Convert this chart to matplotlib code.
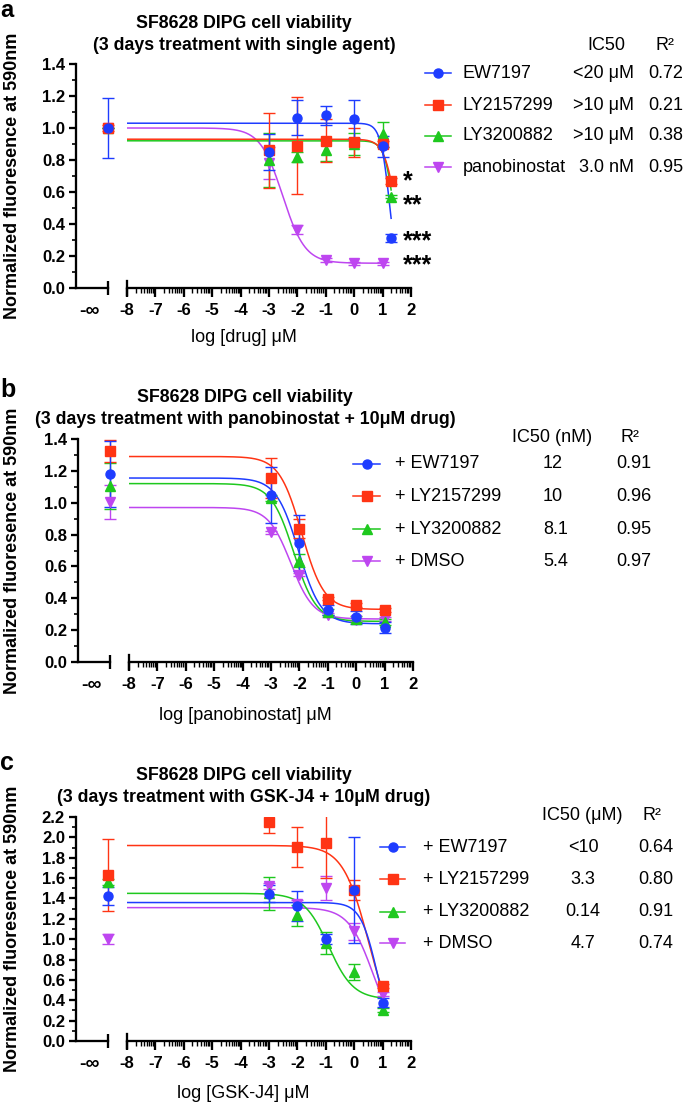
import numpy as np
import matplotlib.pyplot as plt
from matplotlib.lines import Line2D

plt.rcParams['font.family'] = ['Liberation Sans', 'DejaVu Sans']

W, H = 685, 1103

colors = ['#1E3CFF', '#FF3414', '#1EC81E', '#BE46F0']
markers = ['o', 's', '^', 'v']

# ---- panel a: single agent
a_names = ['EW7197', 'LY2157299', 'LY3200882', 'panobinostat']
a_ic50 = ['<20 μM', '>10 μM', '>10 μM', '3.0 nM']
a_r2 = ['0.72', '0.21', '0.38', '0.95']
a_x = [[-3, -2, -1, 0, 1, 1.3], [-3, -2, -1, 0, 1, 1.3],
       [-3, -2, -1, 0, 1, 1.3], [-3, -2, -1, 0, 1]]
a_y = [[0.85, 1.065, 1.08, 1.055, 0.885, 0.31],
       [0.86, 0.89, 0.92, 0.91, 0.90, 0.67],
       [0.80, 0.82, 0.86, 0.90, 0.96, 0.57],
       [0.78, 0.365, 0.175, 0.155, 0.155]]
a_err = [[0.11, 0.11, 0.06, 0.12, 0.065, 0.025],
         [0.235, 0.305, 0.135, 0.09, 0.02, 0.02],
         [0.17, 0.03, 0.065, 0.07, 0.08, 0.01],
         [0.10, 0.03, 0.01, 0.01, 0.01]]
a_inf = [1.0, 1.0, 1.0, 1.0]
a_inf_err = [0.19, 0.02, 0.0, 0.0]
# top, bottom, logIC50, hill, last x
a_fit = [(1.03, 0.0, 1.25, 2.7, 1.3), (0.93, 0.0, 1.5, 2.0, 1.3),
         (0.92, 0.0, 1.42, 2.5, 1.3), (1.00, 0.155, -2.52, 1.1, 1.0)]
a_stars = ['*', '**', '***', '***']
a_star_y = [0.68, 0.535, 0.31, 0.16]

# ---- panel b: panobinostat + 10uM drug
b_names = ['+ EW7197', '+ LY2157299', '+ LY3200882', '+ DMSO']
b_ic50 = ['12', '10', '8.1', '5.4']
b_r2 = ['0.91', '0.96', '0.95', '0.97']
b_x = [[-3, -2, -1, 0, 1]] * 4
b_y = [[1.05, 0.745, 0.325, 0.28, 0.215],
       [1.155, 0.838, 0.398, 0.358, 0.327],
       [1.03, 0.635, 0.315, 0.27, 0.25],
       [0.815, 0.547, 0.295, 0.265, 0.27]]
b_err = [[0.175, 0.175, 0.03, 0.04, 0.035],
         [0.125, 0.06, 0.01, 0.01, 0.01],
         [0.02, 0.04, 0.02, 0.02, 0.02],
         [0.01, 0.01, 0.01, 0.01, 0.01]]
b_inf = [1.18, 1.325, 1.107, 1.005]
b_inf_err = [0.21, 0.07, 0.145, 0.105]
b_fit = [(1.155, 0.24, -2.03, 1.1, 1), (1.29, 0.33, -1.92, 1.1, 1),
         (1.12, 0.255, -2.2, 1.1, 1), (0.97, 0.27, -2.3, 1.1, 1)]

# ---- panel c: GSK-J4 + 10uM drug
c_names = ['+ EW7197', '+ LY2157299', '+ LY3200882', '+ DMSO']
c_ic50 = ['<10', '3.3', '0.14', '4.7']
c_r2 = ['0.64', '0.80', '0.91', '0.74']
c_x = [[-3, -2, -1, 0, 1]] * 4
c_y = [[1.447, 1.326, 1.00, 1.486, 0.376],
       [2.15, 1.905, 1.948, 1.48, 0.54],
       [1.45, 1.234, 0.96, 0.678, 0.30],
       [1.52, 1.35, 1.50, 1.077, 0.46]]
c_err = [[0.085, 0.15, 0.05, 0.52, 0.045],
         [0.11, 0.195, 0.35, 0.10, 0.02],
         [0.16, 0.105, 0.11, 0.075, 0.02],
         [0.03, 0.03, 0.12, 0.085, 0.02]]
c_inf = [1.424, 1.633, 1.56, 1.005]
c_inf_err = [0.09, 0.355, 0.03, 0.05]
c_fit = [(1.36, 0.0, 0.8, 1.5, 1), (1.92, 0.0, 0.52, 0.95, 1),
         (1.45, 0.41, -0.9, 1.0, 1), (1.31, 0.0, 0.67, 1.0, 1)]


def fx(p):
    return p / W


def fy(p):
    return 1 - p / H


fig = plt.figure(figsize=(W / 100, H / 100), dpi=100)

LW = 1.65


def draw_panel(xl, ytop, ybot, ymax, xs, ys, errs, inf, inf_err, fits):
    h = (ybot - ytop) / H
    ax0 = fig.add_axes([fx(xl), fy(ybot), 32 / W, h])
    ax1 = fig.add_axes([fx(xl + 51), fy(ybot), 284 / W, h])
    for ax in (ax0, ax1):
        ax.set_ylim(0, ymax)
        ax.patch.set_alpha(0)
        for s in ax.spines.values():
            s.set_linewidth(LW)
        ax.spines['top'].set_visible(False)
        ax.spines['right'].set_visible(False)
    ax0.set_xlim(0, 1)
    ax0.set_yticks(np.arange(0, ymax + 0.01, 0.2))
    ax0.set_yticklabels(['%.1f' % v for v in np.arange(0, ymax + 0.01, 0.2)],
                        fontsize=12, fontweight='bold')
    ax0.set_yticks(np.arange(0, ymax + 0.01, 0.1), minor=True)
    ax0.tick_params(axis='y', which='major', length=5, width=LW, pad=3)
    ax0.tick_params(axis='y', which='minor', length=3, width=1.2)
    ax0.set_xticks([0.42])
    ax0.set_xticklabels(['-∞'], fontsize=14, fontweight='bold')
    ax0.set_xticks([1], minor=True)
    ax0.tick_params(axis='x', which='major', length=0, pad=11)
    ax0.tick_params(axis='x', which='minor', direction='inout', length=9.4, width=LW)

    ax1.spines['left'].set_visible(False)
    ax1.set_xlim(-8, 2)
    ax1.set_yticks([])
    ax1.set_xticks(range(-8, 3))
    ax1.set_xticklabels([str(v) for v in range(-8, 3)], fontsize=12, fontweight='bold')
    minor = [n + np.log10(k) for n in range(-8, 2) for k in range(2, 10)]
    ax1.set_xticks(minor, minor=True)
    ax1.tick_params(axis='x', which='major', length=6.5, width=LW, pad=4)
    ax1.tick_params(axis='x', which='minor', length=3.6, width=1.0)
    ax1.axvline(-8, ymin=-0.03, ymax=0.03, color='k', lw=LW, clip_on=False)

    for i in [3, 2, 1, 0]:
        top, bot, logic, hill, xend = fits[i]
        xx = np.linspace(-8, xend, 400)
        ax1.plot(xx, bot + (top - bot) / (1 + 10 ** ((xx - logic) * hill)),
                 color=colors[i], lw=1.1, zorder=2)
        ax1.errorbar(xs[i], ys[i], yerr=errs[i], fmt=markers[i], color=colors[i],
                     ms=6.5, capsize=4.3, elinewidth=1.0, capthick=1.0, zorder=3)
        eb = ax0.errorbar([1], [inf[i]], yerr=[inf_err[i]], fmt=markers[i],
                          color=colors[i], ms=6.5, capsize=4.3, elinewidth=1.0,
                          capthick=1.0, zorder=3)
        for art in eb.get_children():
            art.set_clip_on(False)
    return ax0, ax1


def legend_rows(rows_y, lx0, lx1, names, name_x):
    for i, y in enumerate(rows_y):
        fig.add_artist(Line2D([fx(lx0), fx(lx1)], [fy(y), fy(y)], color=colors[i],
                              lw=1.1, transform=fig.transFigure))
        fig.add_artist(Line2D([fx((lx0 + lx1) / 2)], [fy(y)], marker=markers[i],
                              color=colors[i], ms=6.5, transform=fig.transFigure))
        fig.text(fx(name_x), fy(y), names[i], fontsize=13, ha='left', va='center')


def titles(lines, ys, x=245):
    for t, y in zip(lines, ys):
        fig.text(fx(x), fy(y), t, fontsize=12.8, fontweight='bold', ha='center', va='center')


def ylab(ytop, ybot):
    fig.text(fx(13), fy((ytop + ybot) / 2), 'Normalized fluoresence at 590nm',
             rotation=90, fontsize=13, fontweight='bold', ha='center', va='center')


# ================= panel a
fig.text(fx(0), fy(17), 'a', fontsize=17, fontweight='bold', va='baseline')
titles(['SF8628 DIPG cell viability', '(3 days treatment with single agent)'], [23, 45], 244)
ax0, ax1 = draw_panel(76, 64, 288, 1.4, a_x, a_y, a_err, a_inf, a_inf_err, a_fit)
for s, y in zip(a_stars, a_star_y):
    ax1.text(1.72, y, s, fontsize=18, fontweight='bold', ha='left', va='center_baseline')
ylab(64, 288)
fig.text(fx(244), fy(338), 'log [drug] μM', fontsize=13, ha='center', va='center')
rows = [73, 105, 136, 167]
legend_rows(rows, 425, 451, a_names, 463)
fig.text(fx(606), fy(45), 'IC50', fontsize=13, ha='center', va='center')
fig.text(fx(665), fy(45), 'R²', fontsize=13, ha='center', va='center')
for i, y in enumerate(rows):
    fig.text(fx(634), fy(y), a_ic50[i], fontsize=13, ha='right', va='center')
    fig.text(fx(648), fy(y), a_r2[i], fontsize=13, ha='left', va='center')

# ================= panel b
fig.text(fx(0), fy(397), 'b', fontsize=18, fontweight='bold', va='baseline')
titles(['SF8628 DIPG cell viability',
        '(3 days treatment with panobinostat + 10μM drug)'], [397, 420], 245)
draw_panel(78, 439, 662, 1.4, b_x, b_y, b_err, b_inf, b_inf_err, b_fit)
ylab(439, 662)
fig.text(fx(245), fy(715), 'log [panobinostat] μM', fontsize=13, ha='center', va='center')
rows = [464, 496, 529, 561]
legend_rows(rows, 353, 380, b_names, 395)
fig.text(fx(552), fy(438), 'IC50 (nM)', fontsize=13, ha='center', va='center')
fig.text(fx(630), fy(438), 'R²', fontsize=13, ha='center', va='center')
for i, y in enumerate(rows):
    fig.text(fx(543), fy(y), b_ic50[i], fontsize=13, ha='left', va='center')
    fig.text(fx(616), fy(y), b_r2[i], fontsize=13, ha='left', va='center')

# ================= panel c
fig.text(fx(0), fy(770), 'c', fontsize=18, fontweight='bold', va='baseline')
titles(['SF8628 DIPG cell viability',
        '(3 days treatment with GSK-J4 + 10μM drug)'], [776, 797], 244)
draw_panel(76, 817, 1041, 2.2, c_x, c_y, c_err, c_inf, c_inf_err, c_fit)
ylab(817, 1041)
fig.text(fx(243), fy(1093), 'log [GSK-J4] μM', fontsize=13, ha='center', va='center')
rows = [847, 879, 912, 943]
legend_rows(rows, 380, 405, c_names, 423)
fig.text(fx(582), fy(816), 'IC50 (μM)', fontsize=13, ha='center', va='center')
fig.text(fx(652), fy(816), 'R²', fontsize=13, ha='center', va='center')
for i, y in enumerate(rows):
    fig.text(fx(583), fy(y), c_ic50[i], fontsize=13, ha='center', va='center')
    fig.text(fx(638), fy(y), c_r2[i], fontsize=13, ha='left', va='center')

fig.savefig('out.png', dpi=100)
